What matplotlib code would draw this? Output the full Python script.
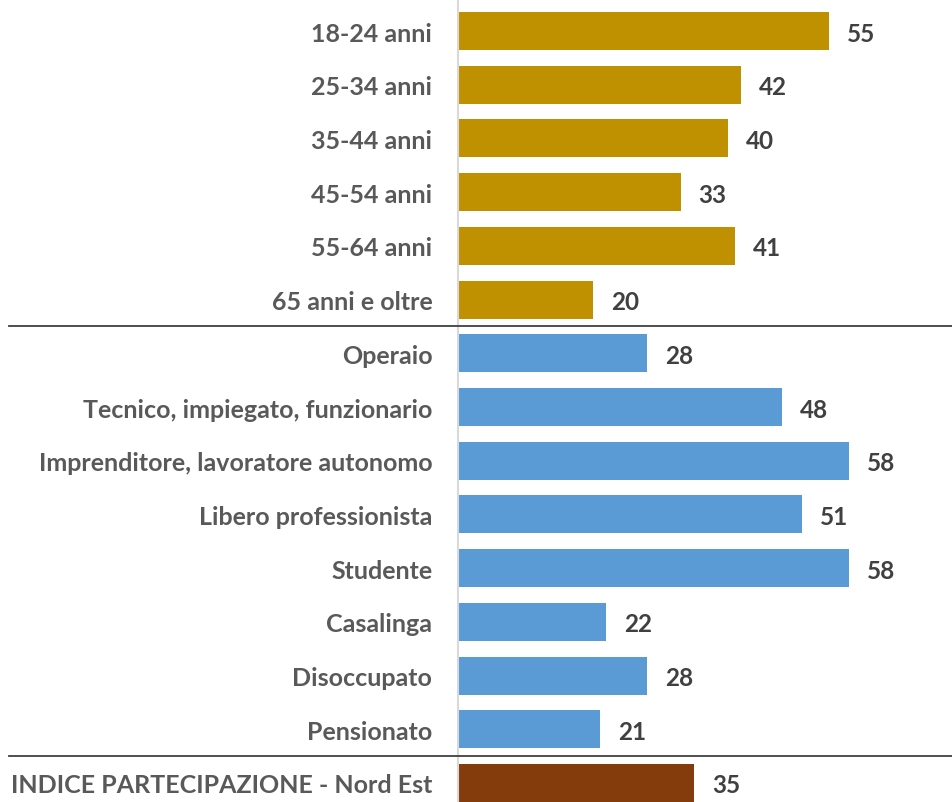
import matplotlib
matplotlib.use("Agg")
import matplotlib.pyplot as plt
import matplotlib.transforms as mtransforms

categories = ["18-24 anni", "25-34 anni", "35-44 anni", "45-54 anni", "55-64 anni",
              "65 anni e oltre", "Operaio", "Tecnico, impiegato, funzionario",
              "Imprenditore, lavoratore autonomo", "Libero professionista", "Studente",
              "Casalinga", "Disoccupato", "Pensionato", "INDICE PARTECIPAZIONE - Nord Est"]
values = [55, 42, 40, 33, 41, 20, 28, 48, 58, 51, 58, 22, 28, 21, 35]
groups = ["eta"] * 6 + ["prof"] * 8 + ["indice"]
group_colors = {"eta": "#BF9000", "prof": "#5B9BD5", "indice": "#843C0C"}

plt.rcParams['font.family'] = ['Lato', 'DejaVu Sans']

W, H = 953, 803
fig = plt.figure(figsize=(W / 100, H / 100), dpi=100)
ax = fig.add_axes([458 / W, 0, 1 - 458 / W, 1])

ys = list(range(len(categories)))
colors = [group_colors[g] for g in groups]
ax.barh(ys, values, height=0.71, color=colors, zorder=2)

ax.set_xlim(0, (W - 458) / 6.745)
ax.set_ylim(14 + 19 / 53.71, -32 / 53.71)
ax.set_xticks([])
ax.set_yticks(ys)
ax.set_yticklabels(categories, fontsize=18, fontweight='bold', color='#595959')
ax.tick_params(axis='y', length=0, pad=18.5)
for s in ['top', 'right', 'bottom']:
    ax.spines[s].set_visible(False)
ax.spines['left'].set_color('#D9D9D9')
ax.spines['left'].set_linewidth(1.5)

for y, v in zip(ys, values):
    ax.text(v + 18 / 6.745, y, str(v), va='center_baseline', ha='left', fontsize=17.5,
            fontweight='bold', color='#404040')

# group separators
trans = mtransforms.blended_transform_factory(fig.transFigure, ax.transData)
for i in range(1, len(groups)):
    if groups[i] != groups[i - 1]:
        line = plt.Line2D([9 / W, 1.0], [i - 0.5, i - 0.5], transform=trans,
                          color='#404040', linewidth=1.3, clip_on=False, zorder=3)
        fig.add_artist(line)

fig.savefig("out.png", dpi=100, facecolor='white')
